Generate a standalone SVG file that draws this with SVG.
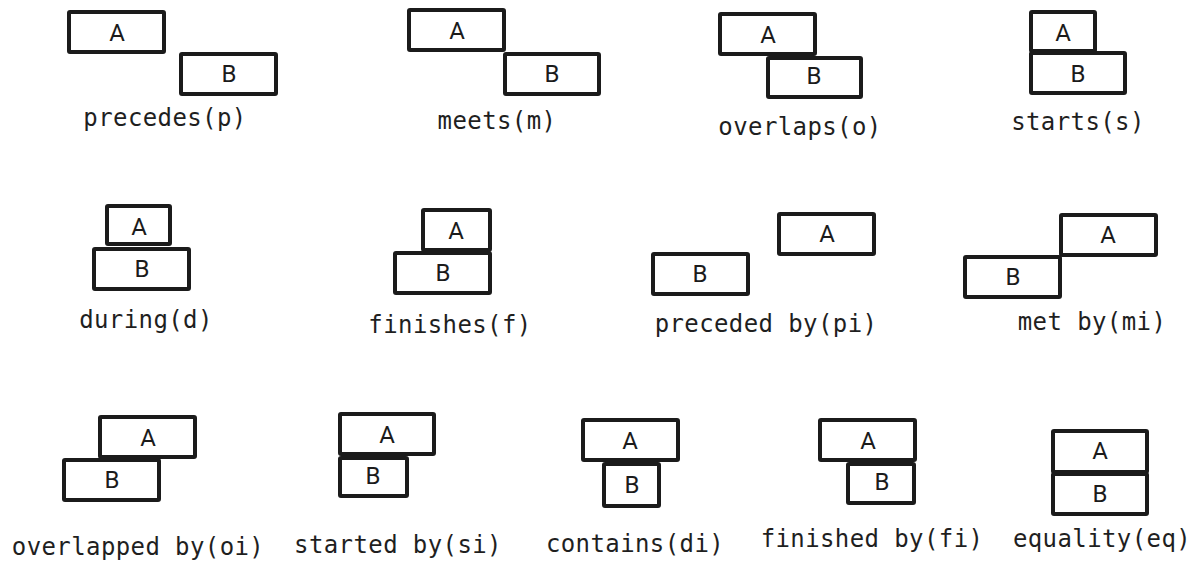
<svg xmlns="http://www.w3.org/2000/svg" width="1203" height="563" viewBox="0 0 1203 563">
  <style>
    .box { fill: none; stroke: #1b1b1b; stroke-width: 4; stroke-linejoin: round; }
    .lt { font-family: Roboto, "Liberation Sans", sans-serif; font-size: 24px; fill: #1b1b1b; text-anchor: middle; }
    .cap { font-family: "DejaVu Sans Mono", "Liberation Mono", monospace; font-size: 24px; letter-spacing: 0.4px; fill: #1f1f1f; text-anchor: middle; }
  </style>
  <rect width="1203" height="563" fill="#ffffff"/>

  <!-- Row 1 -->
  <g id="precedes">
    <rect class="box" x="69" y="12" width="95" height="40" rx="1"/>
    <text class="lt" x="117" y="41">A</text>
    <rect class="box" x="181" y="54" width="95" height="40" rx="1"/>
    <text class="lt" x="229" y="82">B</text>
    <text class="cap" x="165" y="126">precedes(p)</text>
  </g>
  <g id="meets">
    <rect class="box" x="409" y="10" width="95" height="40" rx="1"/>
    <text class="lt" x="457" y="39">A</text>
    <rect class="box" x="505" y="54" width="94" height="40" rx="1"/>
    <text class="lt" x="552" y="82">B</text>
    <text class="cap" x="497" y="129">meets(m)</text>
  </g>
  <g id="overlaps">
    <rect class="box" x="720" y="14" width="95" height="40" rx="1"/>
    <text class="lt" x="768" y="43">A</text>
    <rect class="box" x="768" y="58" width="93" height="39" rx="1"/>
    <text class="lt" x="814" y="84">B</text>
    <text class="cap" x="800" y="135">overlaps(o)</text>
  </g>
  <g id="starts">
    <rect class="box" x="1031" y="12" width="64" height="39" rx="1"/>
    <text class="lt" x="1063" y="41">A</text>
    <rect class="box" x="1031" y="53" width="94" height="40" rx="1"/>
    <text class="lt" x="1078" y="82">B</text>
    <text class="cap" x="1078" y="130">starts(s)</text>
  </g>

  <!-- Row 2 -->
  <g id="during">
    <rect class="box" x="107" y="206" width="63" height="38" rx="1"/>
    <text class="lt" x="139" y="235">A</text>
    <rect class="box" x="94" y="249" width="95" height="40" rx="1"/>
    <text class="lt" x="142" y="277">B</text>
    <text class="cap" x="146" y="328">during(d)</text>
  </g>
  <g id="finishes">
    <rect class="box" x="423" y="210" width="67" height="40" rx="1"/>
    <text class="lt" x="456" y="239">A</text>
    <rect class="box" x="395" y="253" width="95" height="40" rx="1"/>
    <text class="lt" x="443" y="281">B</text>
    <text class="cap" x="450" y="333">finishes(f)</text>
  </g>
  <g id="preceded-by">
    <rect class="box" x="779" y="214" width="95" height="40" rx="1"/>
    <text class="lt" x="827" y="242">A</text>
    <rect class="box" x="653" y="254" width="95" height="40" rx="1"/>
    <text class="lt" x="700" y="282">B</text>
    <text class="cap" x="766" y="332">preceded by(pi)</text>
  </g>
  <g id="met-by">
    <rect class="box" x="1061" y="215" width="95" height="40" rx="1"/>
    <text class="lt" x="1108" y="243">A</text>
    <rect class="box" x="965" y="257" width="95" height="40" rx="1"/>
    <text class="lt" x="1013" y="285">B</text>
    <text class="cap" x="1092" y="330">met by(mi)</text>
  </g>

  <!-- Row 3 -->
  <g id="overlapped-by">
    <rect class="box" x="100" y="417" width="95" height="40" rx="1"/>
    <text class="lt" x="148" y="446">A</text>
    <rect class="box" x="64" y="460" width="95" height="40" rx="1"/>
    <text class="lt" x="112" y="488">B</text>
    <text class="cap" x="138" y="555">overlapped by(oi)</text>
  </g>
  <g id="started-by">
    <rect class="box" x="340" y="414" width="94" height="40" rx="1"/>
    <text class="lt" x="387" y="443">A</text>
    <rect class="box" x="340" y="458" width="67" height="38" rx="1"/>
    <text class="lt" x="373" y="484">B</text>
    <text class="cap" x="398" y="553">started by(si)</text>
  </g>
  <g id="contains">
    <rect class="box" x="583" y="420" width="95" height="40" rx="1"/>
    <text class="lt" x="630" y="449">A</text>
    <rect class="box" x="604" y="464" width="55" height="42" rx="1"/>
    <text class="lt" x="632" y="493">B</text>
    <text class="cap" x="635" y="552">contains(di)</text>
  </g>
  <g id="finished-by">
    <rect class="box" x="820" y="420" width="95" height="40" rx="1"/>
    <text class="lt" x="868" y="449">A</text>
    <rect class="box" x="848" y="464" width="66" height="39" rx="1"/>
    <text class="lt" x="882" y="490">B</text>
    <text class="cap" x="872" y="547">finished by(fi)</text>
  </g>
  <g id="equality">
    <rect class="box" x="1053" y="431" width="94" height="41" rx="1"/>
    <text class="lt" x="1100" y="459">A</text>
    <rect class="box" x="1053" y="474" width="94" height="40" rx="1"/>
    <text class="lt" x="1100" y="502">B</text>
    <text class="cap" x="1102" y="547">equality(eq)</text>
  </g>

  <!-- no connectors in this figure -->
  <g id="connectors"/>
</svg>
